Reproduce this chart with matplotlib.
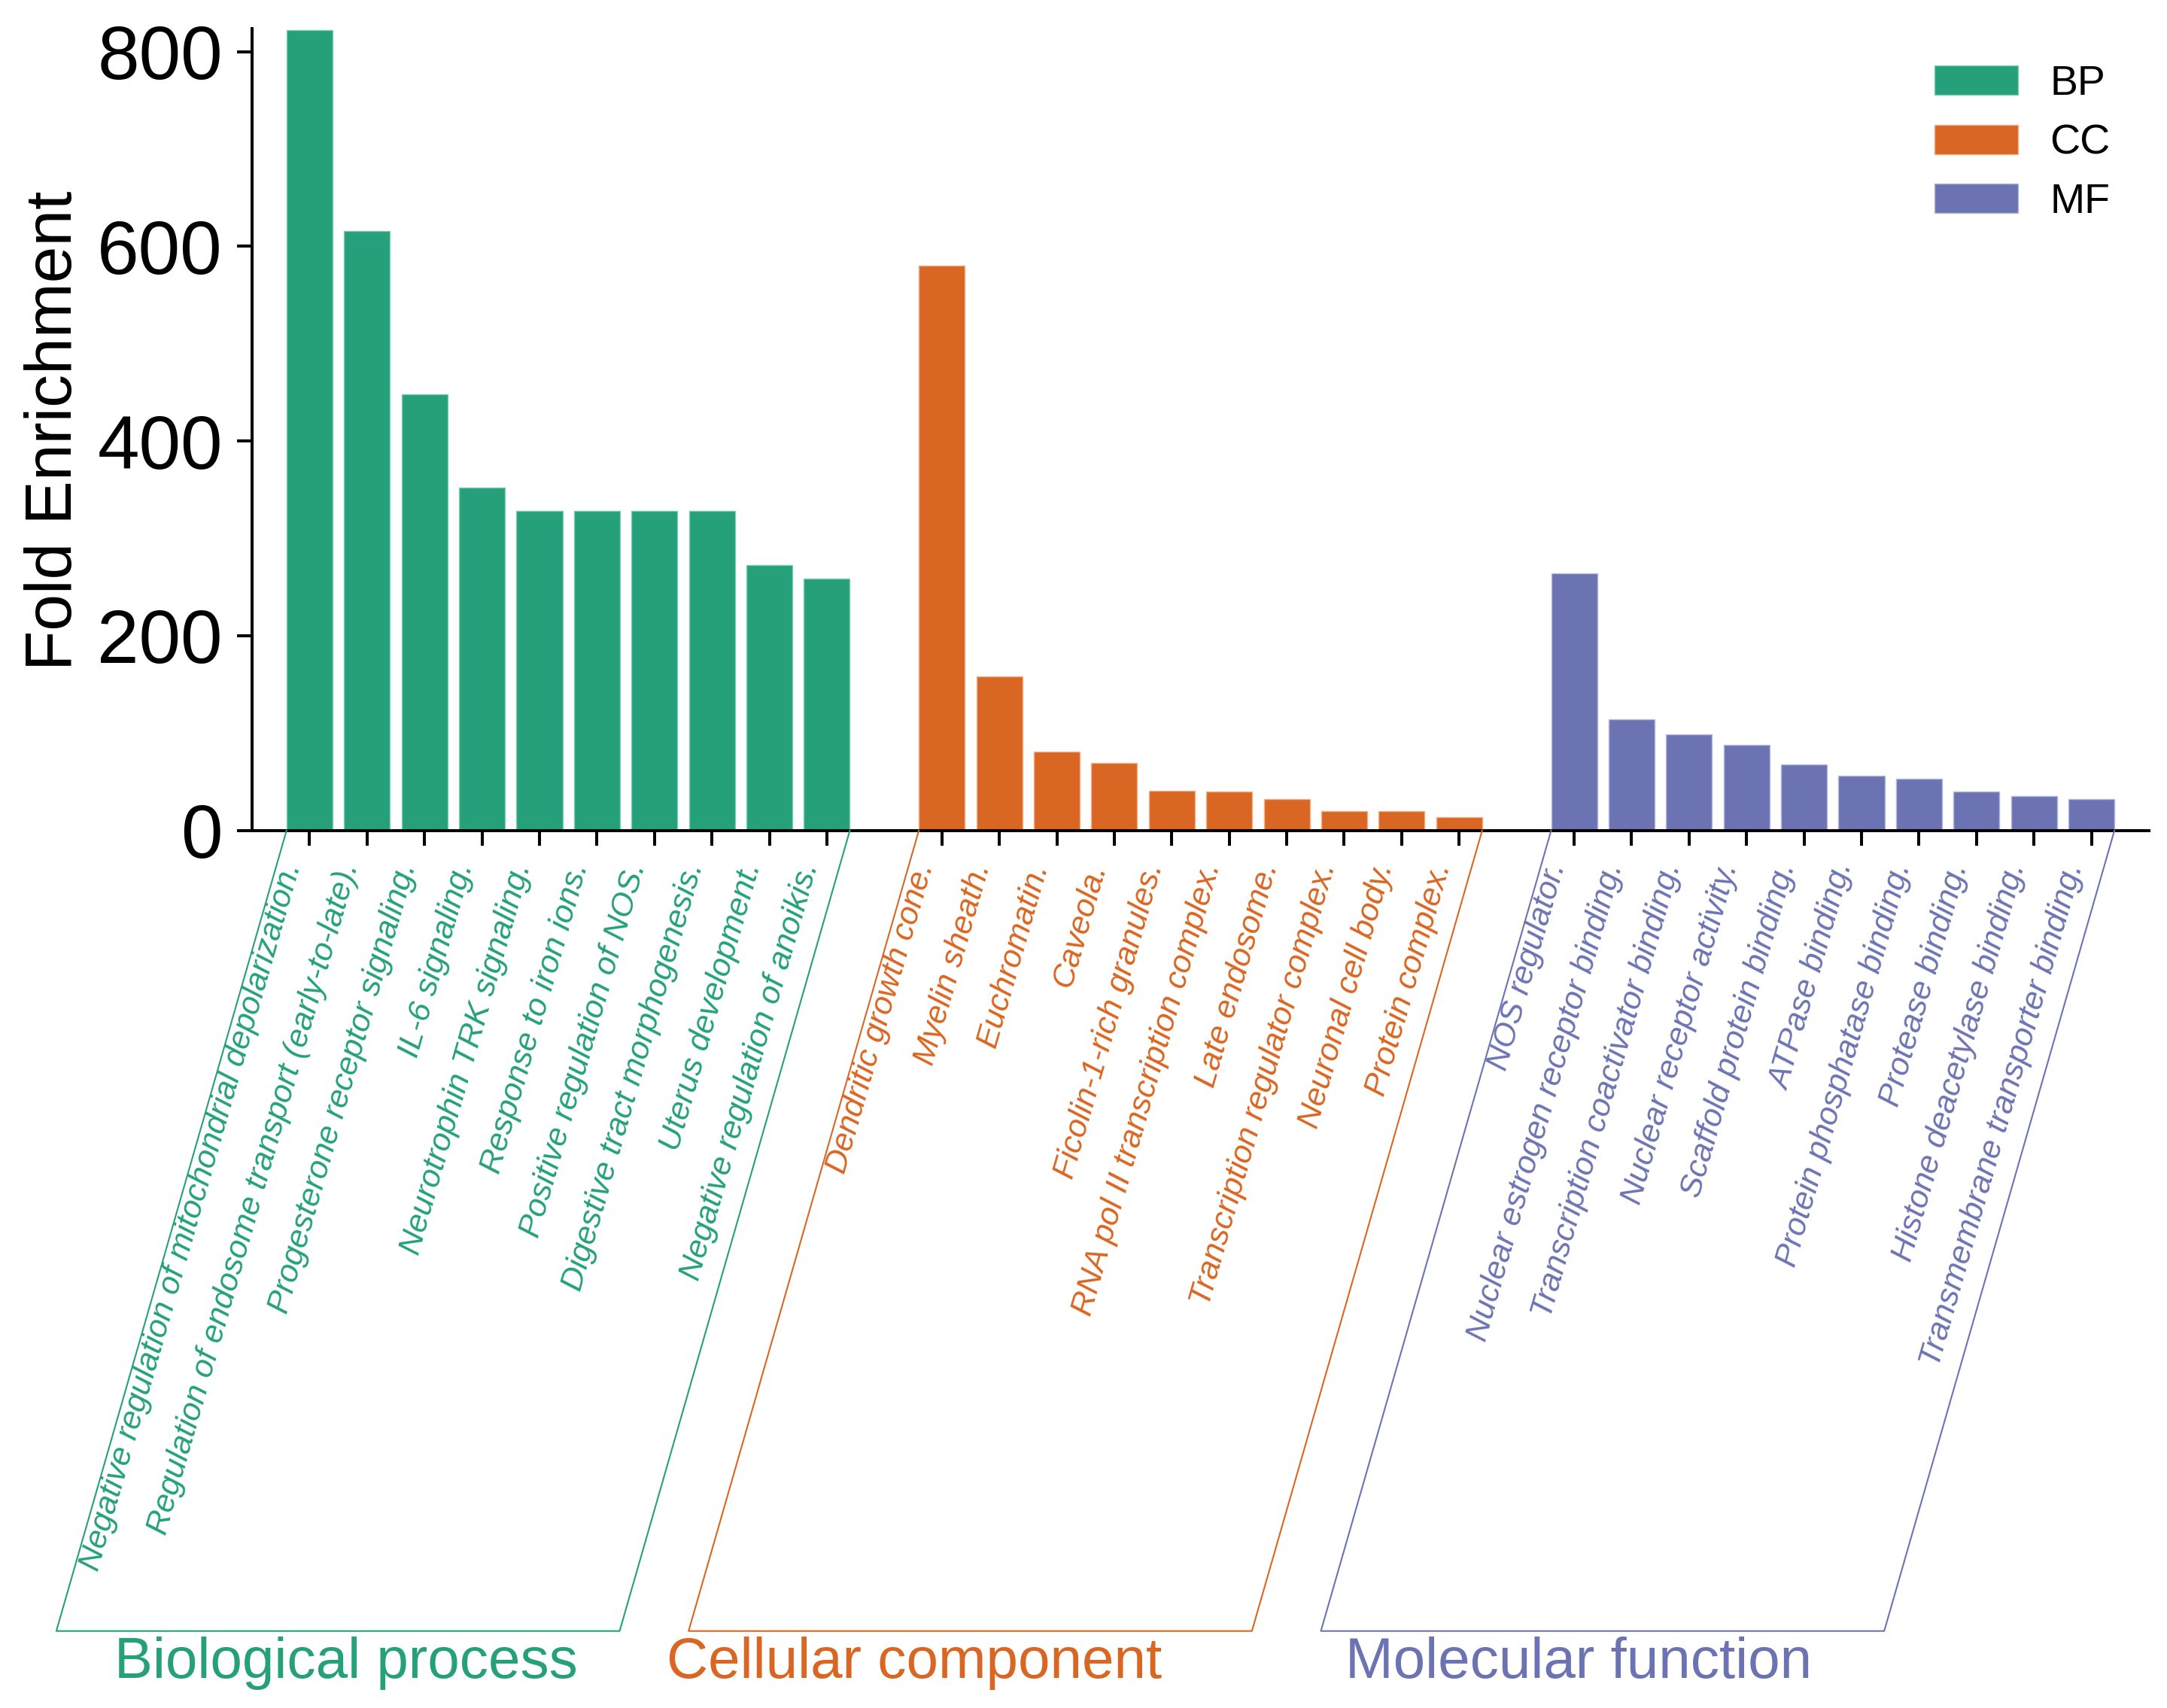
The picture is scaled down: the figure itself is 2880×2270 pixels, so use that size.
import matplotlib
matplotlib.use("Agg")
import matplotlib.pyplot as plt
import matplotlib.transforms as mtransforms
from matplotlib.lines import Line2D
import numpy as np

plt.rcParams['font.family'] = ['Liberation Sans', 'DejaVu Sans']

# ---------------- data ----------------
bp_terms = ["Negative regulation of mitochondrial depolarization.",
            "Regulation of endosome transport (early-to-late).",
            "Progesterone receptor signaling.",
            "IL-6 signaling.",
            "Neurotrophin TRK signaling.",
            "Response to iron ions.",
            "Positive regulation of NOS.",
            "Digestive tract morphogenesis.",
            "Uterus development.",
            "Negative regulation of anoikis."]
bp_values = [822, 616, 448, 352, 328, 328, 328, 328, 273, 259]

cc_terms = ["Dendritic growth cone.",
            "Myelin sheath.",
            "Euchromatin.",
            "Caveola.",
            "Ficolin-1-rich granules.",
            "RNA pol II transcription complex.",
            "Late endosome.",
            "Transcription regulator complex.",
            "Neuronal cell body.",
            "Protein complex."]
cc_values = [580, 158, 81, 69, 41, 40, 32, 20, 20, 14]

mf_terms = ["NOS regulator.",
            "Nuclear estrogen receptor binding.",
            "Transcription coactivator binding.",
            "Nuclear receptor activity.",
            "Scaffold protein binding.",
            "ATPase binding.",
            "Protein phosphatase binding.",
            "Protease binding.",
            "Histone deacetylase binding.",
            "Transmembrane transporter binding."]
mf_values = [264, 114, 99, 88, 68, 56, 53, 40, 35.5, 32]

group_codes = ["BP", "CC", "MF"]
group_names = ["Biological process", "Cellular component", "Molecular function"]
group_colors = ["#25a07b", "#d96622", "#6c73b2"]
group_edges = ["#7fcdb2", "#f2b08a", "#b4b8dc"]

# ---------------- layout ----------------
W, H, DPI = 2880, 2270, 100
fig = plt.figure(figsize=(W / DPI, H / DPI), dpi=DPI)
ax = fig.add_axes([335 / W, 1 - 1103.7 / H, (2856 - 335) / W, (1103.7 - 37.7) / H])

groups = [(bp_terms, bp_values), (cc_terms, cc_values), (mf_terms, mf_values)]
start = 0
all_pos, all_terms, all_cols = [], [], []
group_pos = []
for (terms, vals), code, col, ecol in zip(groups, group_codes, group_colors, group_edges):
    pos = np.arange(start, start + len(vals))
    ax.bar(pos, vals, width=0.8, color=col, edgecolor=ecol, linewidth=1.0, label=code)
    all_pos.extend(pos)
    all_terms.extend(terms)
    all_cols.extend([col] * len(vals))
    group_pos.append(pos)
    start += len(vals) + 1

ax.set_xlim(-1, 32)
ax.set_ylim(0, 824)
ax.set_yticks([0, 200, 400, 600, 800])

for s in ["top", "right"]:
    ax.spines[s].set_visible(False)
for s in ["left", "bottom"]:
    ax.spines[s].set_linewidth(2.9)

ax.tick_params(axis="both", direction="out", length=14.4, width=2.9, color="black")
ax.tick_params(axis="y", labelsize=72, pad=13.7)

ax.set_xticks(all_pos)
ax.set_xticklabels(all_terms, rotation=74, ha="right", va="baseline",
                   rotation_mode="anchor", fontsize=31, fontstyle="italic")
ax.tick_params(axis="x", pad=19.4)
offset = mtransforms.ScaledTranslation(-12 / DPI, 0, fig.dpi_scale_trans)
for lab, col in zip(ax.get_xticklabels(), all_cols):
    lab.set_color(col)
    lab.set_transform(lab.get_transform() + offset)

# y label
fig.text(95 / W, 1 - 572 / H, "Fold Enrichment", rotation=90, ha="center",
         va="baseline", rotation_mode="anchor", fontsize=63)

# legend
leg = ax.legend(loc="upper left", bbox_to_anchor=(2571 / W, 1 - 86 / H),
                bbox_transform=fig.transFigure, frameon=False, fontsize=40,
                borderpad=0, borderaxespad=0, handlelength=2.0, handleheight=0.7,
                handletextpad=0.76, labelspacing=0.48)

# group brackets (parallelograms)
drop_px = 1064
shift_px = 306
ident = mtransforms.IdentityTransform()
for pos, col in zip(group_pos, group_colors):
    xl, yb = ax.transData.transform((pos[0] - 0.4, 0))
    xr, _ = ax.transData.transform((pos[-1] + 0.4, 0))
    xs = [xl, xl - shift_px, xr - shift_px, xr]
    ys = [yb, yb - drop_px, yb - drop_px, yb]
    fig.add_artist(Line2D(xs, ys, transform=ident, color=col, linewidth=1.5))

label_x_px = [460, 1215, 2098]
for name, col, xp in zip(group_names, group_colors, label_x_px):
    fig.text(xp / W, 1 - 2230 / H, name, ha="center", va="baseline",
             fontsize=55, color=col)

fig.savefig("out.png", dpi=DPI)
